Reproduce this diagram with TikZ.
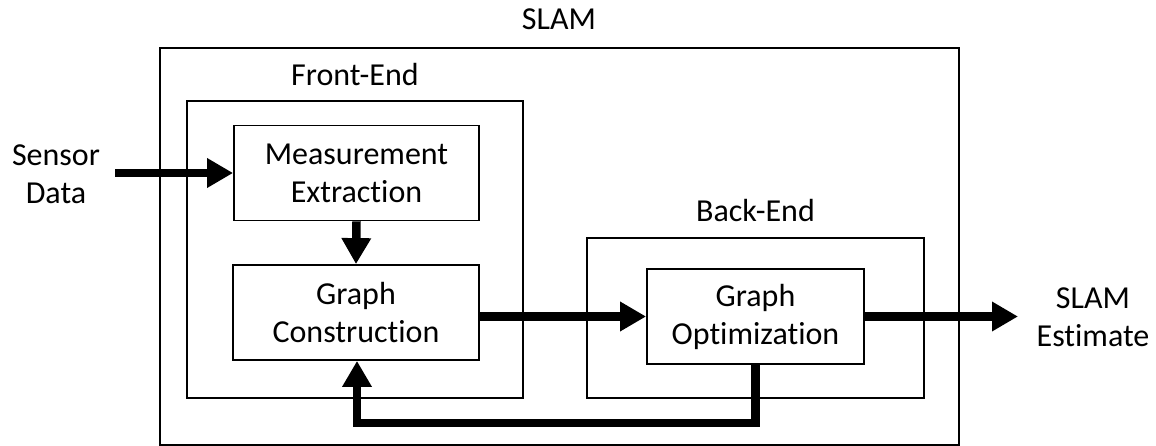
\documentclass[tikz,border=0pt]{standalone}
\usepackage{fontspec}
\setmainfont{Carlito}[Ligatures={NoCommon}]
\usetikzlibrary{arrows.meta}
\begin{document}
\begin{tikzpicture}[x=1pt,y=-1pt,
  txt/.style={font=\fontsize{32}{38}\selectfont, align=center, inner sep=0pt},
  blk/.style={txt, draw, line width=1.8pt, minimum width=#1},
  frame/.style={draw, line width=1.8pt},
  outerframe/.style={draw, line width=2.2pt},
  flow/.style={line width=8.5pt, -{Triangle[length=26pt,width=28pt]}, line join=miter}
]
\useasboundingbox (0,0) rectangle (1156,446);
% containers
\node[outerframe, minimum width=799pt, minimum height=397pt, inner sep=0pt] (slam) at (559.25,246.5) {};
\node[frame, minimum width=336pt, minimum height=297pt, inner sep=0pt] (fe) at (355,249.5) {};
\node[frame, minimum width=337pt, minimum height=160pt, inner sep=0pt] (be) at (755.5,318) {};
% container labels
\node[txt, anchor=base] (slamlbl) at (559,30) {SLAM};
\node[txt, anchor=base] (felbl) at (355,86) {Front-End};
\node[txt, anchor=base] (belbl) at (755.5,222) {Back-End};
% blocks
\node[blk=245pt, minimum height=95pt] (me) at (356.5,173) {Measurement\\Extraction};
\node[blk=246pt, minimum height=95pt] (gc) at (356,312.5) {Graph\\Construction};
\node[blk=217pt, minimum height=95pt] (go) at (755.5,316.5) {Graph\\Optimization};
% external texts
\node[txt] (sensor) at (56,174) {Sensor\\Data};
\node[txt] (est) at (1093,317) {SLAM\\Estimate};
\coordinate (in) at (115,173);
\coordinate (out) at (1018,316.5);
\coordinate (fbr) at (755.5,423);
\coordinate (fbl) at (357,423);
% connectors
\draw[flow] (in) -- (me.west);
\draw[flow] (me.south) -- (gc.north);
\draw[flow] (gc.east |- go.west) -- (go.west);
\draw[flow] (go.east) -- (out);
\draw[flow] (go.south) -- (fbr) -- (fbl) -- (fbl |- gc.south);
\end{tikzpicture}
\end{document}
